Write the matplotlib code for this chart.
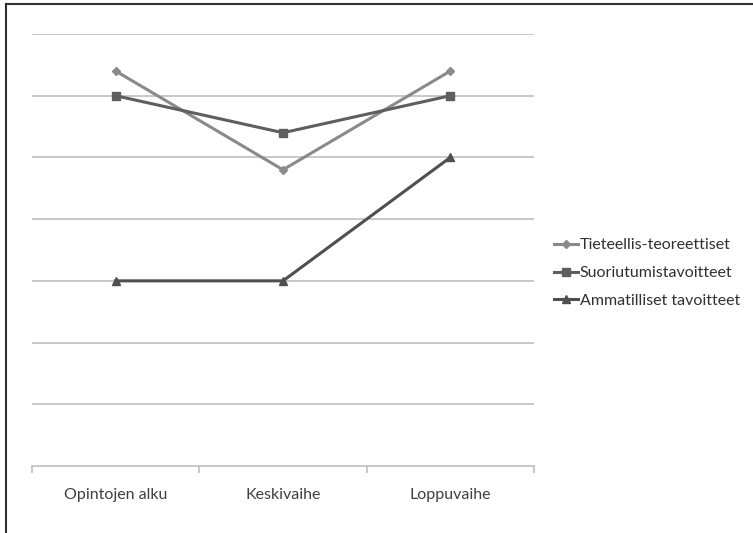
import matplotlib
matplotlib.use("Agg")
import matplotlib.pyplot as plt
from matplotlib.lines import Line2D
import numpy as np

vaiheet = ["Opintojen alku", "Keskivaihe", "Loppuvaihe"]
tieteelliset = [6.4, 4.8, 6.4]
suoriutuminen = [6.0, 5.4, 6.0]
ammatilliset = [3.0, 3.0, 5.0]

plt.rcParams["font.family"] = ["Lato", "DejaVu Sans"]

W, H = 753, 533
fig = plt.figure(figsize=(W / 100, H / 100), dpi=100)
ax = fig.add_axes([32 / W, (H - 466) / H, (534 - 32) / W, (466 - 34) / H])

x = np.arange(len(vaiheet))
ax.plot(x, tieteelliset, color="#8a8a8a", lw=2.2, marker="D", ms=4.5,
        label="Tieteellis-teoreettiset")
ax.plot(x, suoriutuminen, color="#5e5e5e", lw=2.2, marker="s", ms=6,
        label="Suoriutumistavoitteet")
ax.plot(x, ammatilliset, color="#4f4f4f", lw=2.2, marker="^", ms=6,
        label="Ammatilliset tavoitteet")

ax.set_xlim(-0.5, 2.5)
ax.set_ylim(0, 7)
ax.set_yticks(range(1, 8))
ax.yaxis.grid(True, color="#bfbfbf", lw=1.2)
ax.set_axisbelow(True)
ax.tick_params(axis="y", length=0, labelleft=False)

ax.set_xticks([-0.5, 0.5, 1.5, 2.5])
ax.set_xticklabels([])
ax.set_xticks(x, minor=True)
ax.set_xticklabels(vaiheet, minor=True, fontsize=11.5, color="#404040")
ax.tick_params(axis="x", which="major", length=5, color="#bfbfbf", width=1.2)
ax.tick_params(axis="x", which="minor", length=0, pad=16)

for s in ["top", "right", "left"]:
    ax.spines[s].set_visible(False)
ax.spines["bottom"].set_color("#bfbfbf")
ax.spines["bottom"].set_linewidth(1.2)

leg = ax.legend(loc="center left", bbox_to_anchor=(540 / W, (H - 273) / H),
                bbox_transform=fig.transFigure, frameon=False, fontsize=11.5,
                handlelength=1.5, handletextpad=0.1, labelspacing=0.85,
                markerscale=0.85, labelcolor="#303030")

# outer frame on the left and top edge
fig.add_artist(Line2D([6 / W, 6 / W], [0, 1 - 4 / H], color="#303030", lw=1.5))
fig.add_artist(Line2D([6 / W, 1], [1 - 4 / H, 1 - 4 / H], color="#303030", lw=1.5))

fig.savefig("out.png", dpi=100)
